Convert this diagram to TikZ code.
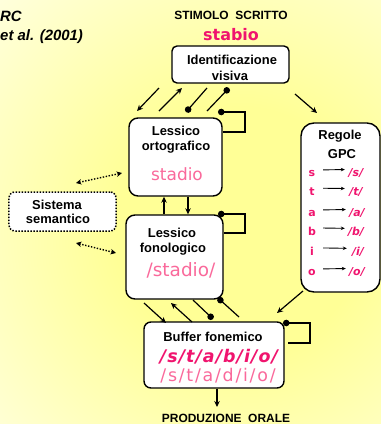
\documentclass[tikz,border=0pt]{standalone}
\usepackage{fontspec}
\setmainfont{Liberation Sans}
\newfontfamily\pinkfont{DejaVu Sans}
\usetikzlibrary{arrows.meta,calc}
\definecolor{darkpink}{RGB}{240,20,110}
\definecolor{lightpink}{RGB}{250,105,155}
\definecolor{bgyellow}{RGB}{255,255,150}
\pgfdeclareradialshading{bgsh}{\pgfpoint{0bp}{0bp}}{color(0bp)=(bgyellow); color(7bp)=(bgyellow); color(25bp)=(white); color(50bp)=(white)}
\begin{document}
\begin{tikzpicture}[x=1bp,y=-1bp,
  box/.style={draw=black,line width=1.4bp,fill=white,inner sep=0pt},
  lbl/.style={font=\bfseries\fontsize{13}{15}\selectfont,inner sep=0pt,anchor=base},
  captext/.style={font=\bfseries\fontsize{12}{14}\selectfont,inner sep=0pt,anchor=base},
  arr/.style={line width=1.2bp,-{Stealth[length=6bp,width=5.5bp]}},
  dotend/.style={line width=1.2bp,-{Circle[length=6.5bp]}},
  dotstart/.style={line width=1.2bp,{Circle[length=6.5bp]}-},
  semarr/.style={line width=1.4bp,dash pattern=on 1.4bp off 1.6bp,{Stealth[length=5.5bp,width=5.5bp]}-{Stealth[length=5.5bp,width=5.5bp]}},
  gpcl/.style={font=\pinkfont\bfseries\fontsize{11}{13}\selectfont,text=darkpink,inner sep=0pt,minimum width=8bp,anchor=base},
  gpct/.style={font=\pinkfont\bfseries\itshape\fontsize{11}{13}\selectfont,text=darkpink,inner sep=0pt,minimum width=20bp,anchor=base},
  gpca/.style={line width=0.9bp,-{Stealth[length=4bp,width=3.5bp]},shorten <=7bp,shorten >=1bp}
]
\useasboundingbox (0,0) rectangle (381,424);
\fill[white] (0,0) rectangle (381,424);
\begin{scope}
  \clip (0,0) rectangle (381,424);
  \shade[shading=bgsh] (240,230) circle (440);
\end{scope}

% title
\node[anchor=base west,inner sep=0pt,font=\bfseries\itshape\fontsize{15}{18}\selectfont] (t1) at (0,21.5) {RC};
\node[anchor=base west,inner sep=0pt,font=\bfseries\itshape\fontsize{15}{18}\selectfont] (t2) at (0,40) {et al. (2001)};

% stimulus
\node[captext] (stim) at (231,19.3) {STIMOLO\ \ SCRITTO};
\node[anchor=base,inner sep=0pt,font=\pinkfont\bfseries\fontsize{16}{18}\selectfont,text=darkpink] (stabio) at (231,40) {stabio};

% boxes
\node[box,rounded corners=5bp,minimum width=117bp,minimum height=37bp] (idv) at (230.5,64.5) {};
\node[box,rounded corners=9bp,minimum width=93bp,minimum height=78bp] (orto) at (175.5,157) {};
\node[box,rounded corners=9bp,minimum width=97bp,minimum height=84bp] (fono) at (174.5,257) {};
\node[box,rounded corners=13bp,minimum width=79bp,minimum height=169bp] (gpc) at (340.5,207.5) {};
\node[box,rounded corners=6bp,minimum width=107bp,minimum height=39bp,dash pattern=on 1.5bp off 1.5bp,line width=1.5bp] (sem) at (62.5,211.5) {};
\node[box,rounded corners=7bp,minimum width=140bp,minimum height=66bp] (buf) at (214,355) {};

% box texts
\node[lbl] (idv1) at (232,64) {Identificazione};
\node[lbl] (idv2) at (230,80) {visiva};
\node[lbl] (or1) at (176,135) {Lessico};
\node[lbl] (or2) at (176,150) {ortografico};
\node[anchor=base,inner sep=0pt,font=\pinkfont\fontsize{17}{19}\selectfont,text=lightpink] (or3) at (177,180) {stadio};
\node[lbl] (fo1) at (172,237) {Lessico};
\node[lbl] (fo2) at (173,252) {fonologico};
\node[anchor=base,inner sep=0pt,font=\pinkfont\fontsize{18.5}{20}\selectfont,text=lightpink] (fo3) at (181,276) {/stadio/};
\node[lbl] (se1) at (57,209) {Sistema};
\node[lbl] (se2) at (58,223) {semantico};
\node[lbl] (rg1) at (340,139) {Regole};
\node[lbl] (rg2) at (342,158) {GPC};
\node[lbl] (bu1) at (213,341) {Buffer fonemico};
\node[anchor=base,inner sep=0pt,font=\pinkfont\bfseries\itshape\fontsize{17.5}{19}\selectfont\addfontfeature{LetterSpace=6},text=darkpink] (bu2) at (219,362) {/s/t/a/b/i/o/};
\node[anchor=base,inner sep=0pt,font=\pinkfont\fontsize{17.5}{19}\selectfont\addfontfeature{LetterSpace=10},text=lightpink] (bu3) at (218,381) {/s/t/a/d/i/o/};
\node[captext] (out) at (226,422) {PRODUZIONE\ \ ORALE};

% GPC rules
\node[gpcl] (ls) at (312,176.5) {s};  \node[gpct] (rs) at (356,176.5) {/s/};
\node[gpcl] (lt) at (312,195.5) {t};  \node[gpct] (rt) at (356,195.5) {/t/};
\node[gpcl] (la) at (312,216.5) {a};  \node[gpct] (ra) at (357,216.5) {/a/};
\node[gpcl] (lb) at (312,235.5) {b};  \node[gpct] (rb) at (356,235.5) {/b/};
\node[gpcl] (li) at (312,255.5) {i};  \node[gpct] (ri) at (358,255.5) {/i/};
\node[gpcl] (lo) at (312,275.5) {o};  \node[gpct] (ro) at (357,275.5) {/o/};
\foreach \a/\b in {ls/rs,lt/rt,la/ra,lb/rb,li/ri,lo/ro}
  \draw[gpca] ($(\a.east)+(0,-3.5)$) -- ($(\b.west)+(0,-3.5)$);

% coordinates for free ends
\coordinate (a1s) at (159,88);  \coordinate (a1e) at (137,111);
\coordinate (a2s) at (159,111); \coordinate (a2e) at (182,88);
\coordinate (a3s) at (207,88);  \coordinate (a3e) at (186,112);
\coordinate (a4s) at (207,111); \coordinate (a4e) at (229,88);
\coordinate (g1s) at (295,94);  \coordinate (g1e) at (317,113);
\coordinate (b1s) at (144,303); \coordinate (b1e) at (166,323);
\coordinate (b2s) at (192,322); \coordinate (b2e) at (171,303);
\coordinate (b3s) at (193,300); \coordinate (b3e) at (213,319);
\coordinate (b4s) at (218,298); \coordinate (b4e) at (239,317);
\coordinate (g2s) at (303,291); \coordinate (g2e) at (277,313);
\coordinate (s1a) at (76,183);  \coordinate (s1b) at (122,173);
\coordinate (s2a) at (76,243);  \coordinate (s2b) at (116,253);
\coordinate (xup) at (164,0);   \coordinate (xdn) at (188,0);
\coordinate (xout) at (217,0);  \coordinate (oute) at (217,407);
\coordinate (ol1) at (218,112); \coordinate (ol2) at (245,132);
\coordinate (fl1) at (218,214); \coordinate (fl2) at (245,233);
\coordinate (bl1) at (283,323); \coordinate (bl2) at (310,343); \coordinate (bl3) at (288,343);

% idv <-> orto
\draw[arr] (a1s) -- (a1e);
\draw[arr] (a2s) -- (a2e);
\draw[dotend] (a3s) -- (a3e);
\draw[dotend] (a4s) -- (a4e);
\draw[arr] (g1s) -- (g1e);

% orto <-> fono
\draw[arr] (fono.north -| xup) -- (orto.south -| xup);
\draw[arr] (orto.south -| xdn) -- (fono.north -| xdn);

% loops
\draw[dotstart] (ol1) -| (ol2) -- (ol2 -| orto.east);
\draw[dotstart] (fl1) -| (fl2) -- (fl2 -| fono.east);
\draw[dotstart] (bl1) -| (bl2) -- (bl3);

% fono <-> buf
\draw[arr] (b1s) -- (b1e);
\draw[arr] (b2s) -- (b2e);
\draw[dotend] (b3s) -- (b3e);
\draw[dotstart] (b4s) -- (b4e);
\draw[arr] (g2s) -- (g2e);

% semantic
\draw[semarr] (s1a) -- (s1b);
\draw[semarr] (s2a) -- (s2b);

% output
\draw[arr] (buf.south -| xout) -- (oute);
\end{tikzpicture}
\end{document}
